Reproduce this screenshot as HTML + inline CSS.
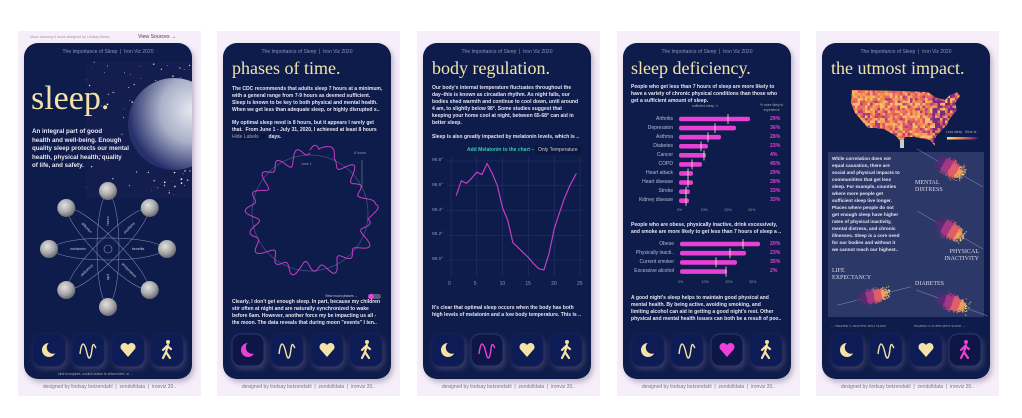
<!DOCTYPE html>
<html><head><meta charset="utf-8">
<style>
html,body{margin:0;padding:0;background:#fff;width:1022px;height:418px;overflow:hidden;font-family:"Liberation Sans",sans-serif}
.t{position:absolute;white-space:nowrap;color:#e9e7f2}
.p{position:absolute;white-space:nowrap;color:#e6e4ef;font-size:5.05px;line-height:7px;font-weight:bold}
.h{position:absolute;white-space:nowrap;font-family:"Liberation Serif",serif;color:#f3e3ab}
.hd{position:absolute;white-space:nowrap;font-size:5px;color:#8f93b8;text-align:center;width:168px}
.ft{position:absolute;white-space:nowrap;font-size:5px;color:#777;text-align:center;width:183px}
</style></head><body>
<svg id="s" width="1022" height="418" style="position:absolute;left:0;top:0">
<defs>
<radialGradient id="mg" cx="40%" cy="35%" r="65%"><stop offset="0" stop-color="#e2e2e2"/><stop offset="0.6" stop-color="#a8a8aa"/><stop offset="1" stop-color="#6a6a70"/></radialGradient>
<radialGradient id="bm" cx="70%" cy="35%" r="70%"><stop offset="0" stop-color="#e8e9f0"/><stop offset="0.5" stop-color="#aab0c8"/><stop offset="1" stop-color="#26306a"/></radialGradient>
<linearGradient id="lg"><stop offset="0" stop-color="#fbe37a"/><stop offset="0.4" stop-color="#f08a4b"/><stop offset="0.75" stop-color="#b4357c"/><stop offset="1" stop-color="#2a1250"/></linearGradient>
<clipPath id="c1"><rect x="24" y="43" width="168" height="336" rx="14"/></clipPath>
<clipPath id="usc"><polygon points="852,90 900,91 928,92 935,97 945,100 950,95 957,92 960,96 955,103 957,110 950,118 947,125 942,130 937,135 934,140 935,146 930,140 915,137 905,137 902,143 896,136 884,129 876,128 868,128 862,121 855,113 851,103"/></clipPath>
<filter id="sh" x="-20%" y="-20%" width="140%" height="140%"><feDropShadow dx="2" dy="3" stdDeviation="3" flood-color="#6b6282" flood-opacity="0.45"/></filter>
</defs>
<g id="bg"></g>
</svg>
<div id="tx"></div>
<script>
const s=document.getElementById('s'),bg=document.getElementById('bg'),tx=document.getElementById('tx');
const NS='http://www.w3.org/2000/svg';
function el(n,a,p){const e=document.createElementNS(NS,n);for(const k in a)e.setAttribute(k,a[k]);(p||bg).appendChild(e);return e;}
function T(cls,x,y,html,st){const d=document.createElement('div');d.className=cls;d.style.left=x+'px';d.style.top=y+'px';d.innerHTML=html;if(st)d.style.cssText+=st;tx.appendChild(d);return d;}
let seed=7;function R(){seed=(seed*16807)%2147483647;return seed/2147483647;}
function gauss(){return (R()+R()+R()+R()-2)/1.15;}
const L=[18,217,417,617,816];
L.forEach((x,i)=>{
 el('rect',{x:x,y:31,width:183,height:365,fill:'#f6eff9'});
 el('rect',{x:x+6,y:43,width:168,height:336,rx:14,fill:'#0d1a4c',filter:'url(#sh)'});
 T('hd',x+6,49,'The Importance of Sleep &nbsp;|&nbsp; Iron Viz 2020');
 T('ft',x,384,'designed by lindsay betzendahl &nbsp;|&nbsp; zendolldata &nbsp;|&nbsp; ironviz 20..');
 const cx=[25,64,104,143];
 cx.forEach((c,j)=>{
  const bx=x+6+c, by=350;
  const act=(i>0&&j==i-1);
  el('rect',{x:bx-16,y:by-16,width:32,height:32,rx:9,fill:act?'#0b1644':'#101d54',stroke:act?'#26326a':'#141f58','stroke-width':1.2,filter:'url(#sh)'});
  const col=act?'#ee3fd8':'#f5e3a6';
  const bgc=act?'#0b1644':'#101d54';
  if(j==0){el('circle',{cx:bx,cy:by,r:7,fill:col});el('circle',{cx:bx+4,cy:by-2.5,r:6.2,fill:bgc});}
  if(j==1){el('path',{d:`M${bx-8},${by+4} C${bx-6},${by-12} ${bx-3},${by-6} ${bx-1},${by+3} S${bx+3},${by+8} ${bx+4},${by-1} S${bx+7},${by-3} ${bx+8},${by-2}`,fill:'none',stroke:col,'stroke-width':1.4});}
  if(j==2){el('path',{d:`M${bx},${by+7} L${bx-7},${by-1} A3.8,3.8 0 0 1 ${bx},${by-5} A3.8,3.8 0 0 1 ${bx+7},${by-1} Z`,fill:col});}
  if(j==3){el('circle',{cx:bx+1,cy:by-8,r:2,fill:col});el('path',{d:`M${bx+1},${by-5} L${bx-1},${by+2} L${bx-4},${by+8} M${bx-1},${by+2} L${bx+3},${by+8} M${bx},${by-4} L${bx-4},${by} M${bx},${by-4} L${bx+4},${by-1}`,stroke:col,'stroke-width':2.2,fill:'none','stroke-linecap':'round'});}
 });
});
// ---------- Panel 1
T('t',30,35,'Moon drawing &amp; icons designed by Lindsay Betze..','font-size:3.6px;color:#999');
T('t',138,34,'View Sources →','font-size:5.2px;color:#444');
const g1=el('g',{'clip-path':'url(#c1)'});
el('rect',{x:86,y:62,width:110,height:136,fill:'#131d4e'},g1);
for(let k=0;k<120;k++){el('circle',{cx:86+R()*108,cy:62+R()*136,r:R()*0.7+0.2,fill:'#fff',opacity:0.5+R()*0.5},g1);}
el('circle',{cx:174,cy:124,r:46,fill:'url(#bm)'},g1);
T('h',31,80,'sleep.','font-size:34px');
T('t',32,128,'An integral part of good<br>health and well-being. Enough<br>quality sleep protects our mental<br>health, physical health, quality<br>of life, and safety.','font-size:6.2px;line-height:8.5px;font-weight:bold');
const C=[108,249];
[0,45,90,135].forEach(a=>el('ellipse',{cx:C[0],cy:C[1],rx:55,ry:11,fill:'none',stroke:'#8e93bd','stroke-width':0.5,transform:`rotate(${a} ${C[0]} ${C[1]})`}));
el('circle',{cx:C[0],cy:C[1],r:4,fill:'none',stroke:'#8e93bd','stroke-width':0.6});
for(let k=0;k<8;k++){const a=k*Math.PI/4;el('circle',{cx:C[0]+59*Math.cos(a),cy:C[1]+58*Math.sin(a),r:9,fill:'url(#mg)'});}
const lab=[['benefits',0,30],['temperature',45,30],['pills',90,28],['deficiency',135,30],['melatonin',180,30],['diffusion',225,30],['hours',270,28],['positions',315,30]];
lab.forEach(([t,a,r])=>{const rad=a*Math.PI/180,x=C[0]+r*Math.cos(rad),y=C[1]+r*Math.sin(rad);let rot=a;if(rot>90&&rot<270)rot-=180;const e=el('text',{x:x,y:y+1.2,'font-size':3.6,fill:'#c9cbe0','text-anchor':'middle','font-family':'Liberation Sans',transform:`rotate(${rot} ${x} ${y})`});e.textContent=t;});
T('t',58,372,'click to explore, unclick button to return here, or ...','font-size:3.4px;color:#aaa');
// ---------- Panel 2
T('h',232,58,'phases of time.','font-size:18px');
T('p',232,86,'The CDC recommends that adults sleep 7 hours at a minimum,<br>with a general range from 7-9 hours as deemed sufficient.<br>Sleep is known to be key to both physical and mental health.<br>When we get less than adequate sleep, or highly disrupted s..');
T('p',232,120,'My optimal sleep need is 8 hours, but it appears I rarely get<br>that. &nbsp;From June 1 - July 31, 2020, I achieved at least 8 hours<br><span style="background:#0a1540;font-weight:normal;color:#aab">Hide Labels &nbsp; &nbsp; &nbsp;</span> days.');
el('circle',{cx:310,cy:213,r:58,fill:'none',stroke:'#454d80','stroke-width':0.8});
let d='';for(let k=0;k<=360;k++){const a=(k-90)*Math.PI/180;let r=58+5*Math.sin(k*0.33)+3.5*Math.sin(k*0.16+1)+2*Math.sin(k*0.05+2);
 if(k>8&&k<24)r+=16*Math.sin((k-8)/16*Math.PI);if(k>82&&k<96)r+=10*Math.sin((k-82)/14*Math.PI);
 const x=310+r*Math.cos(a),y=213+r*Math.sin(a);d+=(k?'L':'M')+x.toFixed(1)+','+y.toFixed(1);}
el('path',{d:d,fill:'none',stroke:'#c63dc6','stroke-width':1});
el('line',{x1:362,y1:160,x2:362,y2:187,stroke:'#888','stroke-width':0.6});
T('t',354,151,'8 hours','font-size:3.6px;color:#999');
T('t',301,162,'June 1','font-size:3.6px;color:#999');
T('t',325,294,'View moon phases →','font-size:3.4px;color:#ccc');
el('rect',{x:368,y:294,width:13,height:5,rx:2.5,fill:'#555a80'});el('circle',{cx:371,cy:296.5,r:2.8,fill:'#ee3fd8'});
T('p',232,299,'Clearly, I don\'t get enough sleep. In part, because my children<br>stir often at night and are naturally synchronized to wake<br>before 6am. However, another force my be impacting us all -<br>the moon. The data reveals that during moon "events" I ten..');
// ---------- Panel 3
T('h',432,58,'body regulation.','font-size:18px');
T('p',432,85,'Our body\'s internal temperature fluctuates throughout the<br>day–this is known as circadian rhythm. As night falls, our<br>bodies shed warmth and continue to cool down, until around<br>4 am, to slightly below 98°. Some studies suggest that<br>keeping your home cool at night, between 65-68° can aid in<br>better sleep.');
T('p',432,134,'Sleep is also greatly impacted by melatonin levels, which is ..');
T('t',467,147,'Add Melatonin to the chart – ','font-size:5px;color:#3cc6b0;font-weight:bold');
T('t',535,146,'Only Temperature','font-size:5px;color:#ccc;background:#0a1540;padding:1px 3px');
const X=h=>451+h*5.16, Y=v=>260-(v-98)*123.75;
for(let h=0;h<=25;h+=5){el('line',{x1:X(h),y1:157,x2:X(h),y2:276,stroke:'#27336a','stroke-width':0.6});T('t',X(h)-3,281,''+h,'font-size:5px;color:#8f93b8');}
[98,98.2,98.4,98.6,98.8].forEach(v=>{el('line',{x1:447,y1:Y(v),x2:583,y2:Y(v),stroke:'#27336a','stroke-width':0.6});T('t',432,Y(v)-3,v.toFixed(1)+'°','font-size:4.8px;color:#8f93b8');});
const pts=[[1,98.52],[2,98.64],[3,98.62],[4,98.66],[5,98.71],[6,98.69],[7,98.78],[8,98.70],[9,98.60],[10,98.42],[11,98.32],[12,98.14],[13,98.10],[14,98.06],[15,98.02],[16,97.97],[17,97.93],[18,97.92],[19,98.05],[20,98.25],[21,98.38],[22,98.50],[23,98.60],[24.3,98.70]];
el('polyline',{points:pts.map(p=>X(p[0]).toFixed(1)+','+Y(p[1]).toFixed(1)).join(' '),fill:'none',stroke:'#c63dc6','stroke-width':1.2,'stroke-linejoin':'round'});
T('p',432,305,'It\'s clear that optimal sleep occurs when the body has both<br>high levels of melatonin and a low body temperature. This is ..');
// ---------- Panel 4
T('h',631,58,'sleep deficiency.','font-size:18px');
T('p',631,84,'People who get less than 7 hours of sleep are more likely to<br>have a variety of chronic physical conditions than those who<br>get a sufficient amount of sleep.');
T('t',692,104,'sufficient sleep ↴','font-size:3.4px;color:#aaa');
T('t',760,103,'% more likely to<br>experience','font-size:3.3px;color:#aaa;line-height:4.5px;text-align:center');
const b1=[['Arthritis',750,728,'29%'],['Depression',736,715,'36%'],['Asthma',721,708,'28%'],['Diabetes',708,701,'23%'],['Cancer',706,704,'4%'],['COPD',702,692,'45%'],['Heart attack',693,688,'29%'],['Heart disease',693,688,'28%'],['Stroke',690,686,'33%'],['Kidney disease',689,686,'33%']];
function bars(list,y0,dy,x0,lx){list.forEach((b,k)=>{const y=y0+k*dy;el('rect',{x:x0,y:y-2.3,width:b[1]-x0,height:4.6,rx:2,fill:'#e83fd4'});el('line',{x1:b[2],y1:y-5,x2:b[2],y2:y+5,stroke:'#f2eec8','stroke-width':0.8});
 T('t',lx-60,y-3.5,b[0],'font-size:5px;color:#b9bcd6;width:60px;text-align:right');T('t',770,y-3.5,b[3],'font-size:5.2px;color:#e83fd4;font-weight:bold');});}
bars(b1,119,9.08,679,673);
['0%','10%','20%','30%'].forEach((t,k)=>T('t',677+k*23.7,208,t,'font-size:3.6px;color:#999'));
T('p',631,222,'People who are obese, physically inactive, drink excessively,<br>and smoke are more likely to get less than 7 hours of sleep a ..');
bars([['Obese',760,743,'20%'],['Physically inacti..',746,730,'23%'],['Current smoker',737,716,'35%'],['Excessive alcohol',727,726,'2%']],244,9.2,680,674);
['0%','10%','20%','30%'].forEach((t,k)=>T('t',678+k*23.7,280,t,'font-size:3.6px;color:#999'));
T('p',631,295,'A good night\'s sleep helps to maintain good physical and<br>mental health. By being active, avoiding smoking, and<br>limiting alcohol can aid in getting a good night\'s rest. Other<br>physical and mental health issues can both be a result of poo..');
// ---------- Panel 5
T('h',831,58,'the utmost impact.','font-size:18px');
const mg=el('g',{'clip-path':'url(#usc)'});
const pal=['#f7a05a','#f5b064','#ee7b4f','#f08a4b','#e86a5a','#d9536a','#f3c06e','#b03a7f'];
for(let x=850;x<962;x+=2.5)for(let y=88;y<148;y+=2.5){let c=pal[Math.floor(R()*pal.length)];if(x>930&&R()<0.45)c='#7a2c7e';el('rect',{x:x,y:y,width:2.6,height:2.6,fill:c},mg);}
el('rect',{x:900,y:140,width:4,height:8,fill:'#ccc'});
T('t',946,130,'Less sleep &nbsp; More sl..','font-size:3.4px;color:#aaa');
el('rect',{x:947,y:137,width:32,height:2.5,fill:'url(#lg)'});
el('rect',{x:828,y:152,width:156,height:165,fill:'#2c3868'});
T('p',832,155,'While correlation does not<br>equal causation, there are<br>social and physical impacts to<br>communitites that get less<br>sleep. For example, counties<br>where more people get<br>sufficient sleep live longer.<br>Places where people do not<br>get enough sleep have higher<br>rates of physical inactivity,<br>mental distress, and chronic<br>illnesses. Sleep is a core need<br>for our bodies and without it<br>we cannot reach our highest..','font-size:4.7px');
function blob(cx,cy,ang,len,wid){const a=ang*Math.PI/180;el('line',{x1:cx-38*Math.cos(a),y1:cy-38*Math.sin(a),x2:cx+38*Math.cos(a),y2:cy+38*Math.sin(a),stroke:'#9097b8','stroke-width':0.5});
 for(let k=0;k<1800;k++){const u=gauss()*len,v=gauss()*wid;const x=cx+u*Math.cos(a)-v*Math.sin(a),y=cy+u*Math.sin(a)+v*Math.cos(a);const c=Math.min(1,Math.max(0,(u/len+1.6)/3.2));
  const col=c<0.3?'#5a2a78':c<0.5?'#a63a85':c<0.7?'#e0606a':c<0.85?'#f4a25a':'#fbe08a';el('circle',{cx:x,cy:y,r:0.6,fill:col,opacity:0.85});}}
blob(950,168,30,12,7);blob(950,230,30,12,7);blob(874,296,-14,12,5.5);blob(952,303,20,12,6.5);
T('h',915,180,'MENTAL<br>DISTRESS','font-size:6px;line-height:7px;color:#dcd8e8');
T('h',943,249,'PHYSICAL<br>INACTIVITY','font-size:6px;line-height:7px;color:#dcd8e8;text-align:right;width:36px');
T('h',832,268,'LIFE<br>EXPECTANCY','font-size:6px;line-height:7px;color:#dcd8e8');
T('h',915,281,'DIABETES','font-size:6px;color:#dcd8e8');
T('h',831,324,'← HIGHER % INSUFFICIENT SLEEP','font-size:3.4px;color:#aaa');
T('h',914,324,'HIGHER % SUFFICIENT SLEEP →','font-size:3.4px;color:#aaa');
</script>
</body></html>
